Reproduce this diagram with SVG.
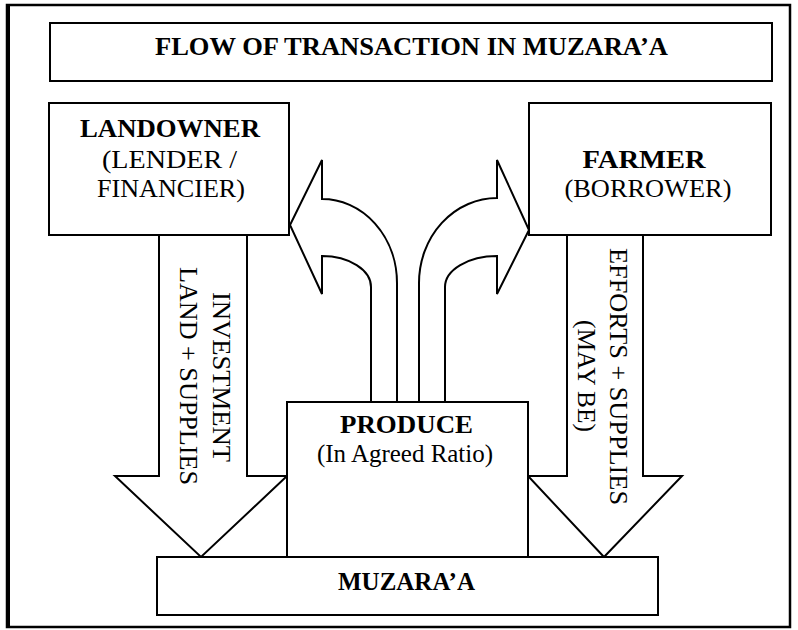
<svg xmlns="http://www.w3.org/2000/svg" width="798" height="630" viewBox="0 0 798 630">
<style>
.box{fill:#fff;stroke:#000;stroke-width:2}
.arr{fill:#fff;stroke:#000;stroke-width:2;stroke-linejoin:miter}
text{font-family:"Liberation Serif","Times New Roman",serif;fill:#000}
.b{font-weight:bold;font-size:26px}
.r{font-size:26px}
.m{text-anchor:middle}
</style>
<rect x="0" y="0" width="798" height="630" fill="#fff"/>
<rect x="7" y="5" width="783" height="622" fill="none" stroke="#000" stroke-width="2.5"/>
<line x1="8" y1="5" x2="8" y2="627" stroke="#000" stroke-width="4"/>

<g id="connectors">
  <path class="arr" d="M159,235 V476 H115 L201,557 L287,476 H247 V235"/>
  <path class="arr" d="M567,235 V476 H528 L604,557 L682,476 H643 V235"/>
  <path class="arr" d="M397,402 V283 A75,84 0 0 0 322,199 V160 L290,225 L322,294 V256 A49,31 0 0 1 371,287 V402"/>
  <path class="arr" d="M419,402 V283 A78,85 0 0 1 497,198 V160 L529,230 L497,294 V256 A52,31 0 0 0 445,287 V402"/>
  <text class="r m" transform="translate(213,377) rotate(90)" textLength="170" lengthAdjust="spacingAndGlyphs">INVESTMENT</text>
  <text class="r m" transform="translate(180,376) rotate(90)" textLength="218" lengthAdjust="spacingAndGlyphs">LAND + SUPPLIES</text>
  <text class="r m" transform="translate(610,376.5) rotate(90)" textLength="257" lengthAdjust="spacingAndGlyphs">EFFORTS + SUPPLIES</text>
  <text class="r m" transform="translate(578,376) rotate(90)" textLength="112" lengthAdjust="spacingAndGlyphs">(MAY BE)</text>
</g>

<g id="title">
  <rect class="box" x="50" y="23" width="722" height="58"/>
  <text class="b m" x="411.5" y="55" textLength="513" lengthAdjust="spacingAndGlyphs">FLOW OF TRANSACTION IN MUZARA’A</text>
</g>

<g id="landowner">
  <rect class="box" x="49" y="103" width="240" height="132"/>
  <text class="b m" x="170" y="137" textLength="180" lengthAdjust="spacingAndGlyphs">LANDOWNER</text>
  <text class="r m" x="169.5" y="168" textLength="135" lengthAdjust="spacingAndGlyphs">(LENDER /</text>
  <text class="r m" x="171" y="197" textLength="148" lengthAdjust="spacingAndGlyphs">FINANCIER)</text>
</g>

<g id="farmer">
  <rect class="box" x="529" y="103" width="242" height="132"/>
  <text class="b m" x="644" y="168" textLength="123" lengthAdjust="spacingAndGlyphs">FARMER</text>
  <text class="r m" x="648" y="197" textLength="167" lengthAdjust="spacingAndGlyphs">(BORROWER)</text>
</g>

<g id="produce">
  <rect class="box" x="287" y="402" width="241" height="155"/>
  <text class="b m" x="406.5" y="433" textLength="133" lengthAdjust="spacingAndGlyphs">PRODUCE</text>
  <text class="r m" x="405" y="462" textLength="176" lengthAdjust="spacingAndGlyphs">(In Agreed Ratio)</text>
</g>

<g id="muzaraa">
  <rect class="box" x="157" y="557" width="501" height="58"/>
  <text class="b m" x="406.5" y="590" textLength="137" lengthAdjust="spacingAndGlyphs">MUZARA’A</text>
</g>
</svg>
